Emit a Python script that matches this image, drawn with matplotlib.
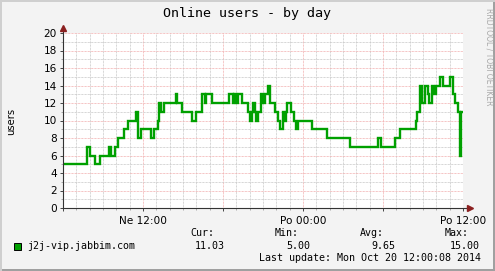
import matplotlib
matplotlib.use("Agg")
import matplotlib.pyplot as plt
from matplotlib.patches import Rectangle
from matplotlib.ticker import MultipleLocator, FixedLocator, FixedFormatter

# hours since Ne 06:00 where the user count changes (held until the next change)
hours = [0.00, 1.82, 2.03, 2.40, 2.78, 3.47, 3.58, 3.90, 4.15, 4.60,
         4.90, 5.45, 5.65, 5.87, 6.62, 6.79, 7.09, 7.22, 7.35, 7.54,
         8.48, 8.57, 8.90, 9.64, 9.98, 10.40, 10.65, 10.75, 11.15, 12.47,
         12.73, 12.85, 12.98, 13.10, 13.40, 13.85, 14.03, 14.15, 14.27, 14.40,
         14.50, 14.60, 14.85, 15.02, 15.15, 15.35, 15.55, 15.90, 16.10, 16.28,
         16.52, 16.61, 16.69, 16.78, 17.10, 17.35, 17.48, 17.60, 18.65, 19.82,
         21.53, 23.65, 23.85, 24.90, 25.28, 26.44, 26.55, 26.74, 26.90, 27.15,
         27.38, 27.47, 27.70, 27.83, 27.94, 28.24, 28.50, 29.06, 29.27, 29.40,
         29.66, 29.76, 29.85]
users = [5, 7, 6, 5, 6, 7, 6, 7, 8, 9,
         10, 11, 8, 9, 8, 9, 10, 12, 11, 12,
         13, 12, 11, 10, 11, 13, 12, 13, 12, 13,
         12, 13, 12, 13, 12, 11, 10, 11, 12, 11,
         10, 11, 13, 12, 13, 14, 12, 11, 10, 9,
         11, 10, 11, 12, 11, 10, 9, 10, 9, 8,
         7, 8, 7, 8, 9, 10, 11, 14, 12, 14,
         13, 12, 14, 13, 14, 15, 14, 15, 13, 12,
         11, 6, 11]
last_hour = 29.93

x_ticks = [0, 6, 12, 18, 24, 30]
x_labels = ["", "Ne 12:00", "", "Po 00:00", "", "Po 12:00"]

title = "Online users - by day"
y_label = "users"
series_name = "j2j-vip.jabbim.com"
stat_names = ["Cur:", "Min:", "Avg:", "Max:"]
stat_values = ["11.03", "5.00", "9.65", "15.00"]
last_update = "Last update: Mon Oct 20 12:00:08 2014"
watermark = "RRDTOOL / TOBI OETIKER"

W, H = 495, 271
canvas = "#f3f3f3"
green = "#00a000"
arrow_red = "#8b2020"
mono = "DejaVu Sans Mono"

fig = plt.figure(figsize=(W / 100, H / 100), dpi=100, facecolor=canvas)
ax = fig.add_axes([63 / W, 1 - 208 / H, 400 / W, 175 / H])
ax.set_facecolor("white")
ax.set_xlim(0, 30)
ax.set_ylim(0, 20)

ax.xaxis.set_major_locator(FixedLocator(x_ticks))
ax.xaxis.set_major_formatter(FixedFormatter(x_labels))
ax.xaxis.set_minor_locator(MultipleLocator(1))
ax.yaxis.set_major_locator(MultipleLocator(2))
ax.yaxis.set_minor_locator(MultipleLocator(1))

dots = (0, (0.72, 0.72))
ax.grid(which="minor", color="#c8c8c8", linewidth=0.72, linestyle=dots, zorder=0)
ax.grid(which="major", color="#f2b0b0", linewidth=0.72, linestyle=dots, zorder=0.5)

for s in ax.spines.values():
    s.set_visible(False)

ax.tick_params(which="major", length=2.5, width=0.7, color="#444444",
               labelsize=7.6, labelcolor="black", pad=2)
ax.tick_params(which="minor", length=1.5, width=0.7, color="#aaaaaa")
ax.tick_params(axis="x", which="both", pad=3)

ax.step(hours + [last_hour], users + [users[-1]], where="post",
        color=green, linewidth=1.7, zorder=3, solid_joinstyle="miter")

# axis lines with arrows
ax.plot([0, 1.0175], [0, 0], transform=ax.transAxes, color="#333333",
        linewidth=0.8, clip_on=False, zorder=4)
ax.plot([0, 0], [0, 1.035], transform=ax.transAxes, color="#333333",
        linewidth=0.8, clip_on=False, zorder=4)
ax.plot([1.0175], [0], transform=ax.transAxes, marker=">", markersize=4,
        color=arrow_red, clip_on=False, zorder=5)
ax.plot([0], [1.03], transform=ax.transAxes, marker="^", markersize=4,
        color=arrow_red, clip_on=False, zorder=5)

fig.text(11 / W, 1 - 121 / H, y_label, rotation=90, ha="center", va="center",
         fontsize=7.2)
fig.text(247 / W, 1 - 13.5 / H, title, family=mono, fontsize=9.6,
         ha="center", va="center")
fig.text(489.5 / W, 1 - 57 / H, watermark, rotation=270, ha="center",
         va="center", fontsize=5.5, color="#a8a8a8")

# legend
fig.patches.append(Rectangle((13.5 / W, 1 - 250 / H), 7 / W, 7 / H,
                             transform=fig.transFigure, facecolor=green,
                             edgecolor="black", linewidth=0.7))
fig.text(27 / W, 1 - 249 / H, series_name, family=mono, fontsize=7.2,
         va="baseline", ha="left")
name_x = [190, 275, 360, 445]
value_x = [225, 310, 395, 480]
for nx, vx, n, v in zip(name_x, value_x, stat_names, stat_values):
    fig.text(nx / W, 1 - 236.5 / H, n, family=mono, fontsize=7.2,
             va="baseline", ha="left")
    fig.text(vx / W, 1 - 249 / H, v, family=mono, fontsize=7.2,
             va="baseline", ha="right")
fig.text(481 / W, 1 - 261 / H, last_update, family=mono, fontsize=7.2,
         va="baseline", ha="right")

# 3d-ish frame
fig.patches.append(Rectangle((0, 0), 1, 2 / H, transform=fig.transFigure,
                             facecolor="#a0a0a0", edgecolor="none"))
fig.patches.append(Rectangle((1 - 2 / W, 0), 2 / W, 1, transform=fig.transFigure,
                             facecolor="#a0a0a0", edgecolor="none"))
fig.patches.append(Rectangle((0, 1 - 2 / H), 1, 2 / H, transform=fig.transFigure,
                             facecolor="#cfcfcf", edgecolor="none"))
fig.patches.append(Rectangle((0, 0), 2 / W, 1, transform=fig.transFigure,
                             facecolor="#cfcfcf", edgecolor="none"))

fig.savefig("out.png", dpi=100, facecolor=canvas)
